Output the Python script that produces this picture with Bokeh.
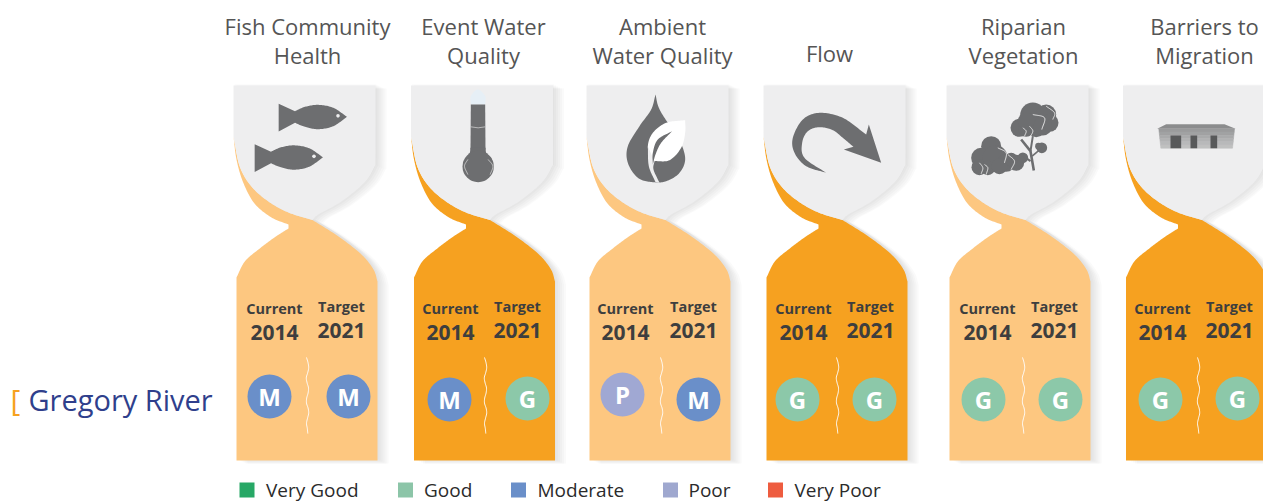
import numpy as np
from bokeh.plotting import figure
from bokeh.models import Range1d
from bokeh.core.properties import value
from bokeh.embed import file_html
from bokeh.resources import INLINE

# ---- data ----
river = "Gregory River"
categories = [["Fish Community", "Health"], ["Event Water", "Quality"], ["Ambient", "Water Quality"],
              ["Flow"], ["Riparian", "Vegetation"], ["Barriers to", "Migration"]]
current_rating = ["M", "M", "P", "G", "G", "G"]
target_rating = ["M", "G", "M", "G", "G", "G"]
current_year = "2014"
target_year = "2021"
legend_labels = ["Very Good", "Good", "Moderate", "Poor", "Very Poor"]
legend_colors = ["#27a866", "#8cc5a8", "#6a8fc9", "#9fa8cf", "#ee5c3f"]
rating_colors = {"G": "#8cc8a9", "M": "#6a8fc9", "P": "#a0a8d3"}
light_orange, deep_orange = "#fdc780", "#f6a120"
body_colors = [light_orange, deep_orange, light_orange, deep_orange, light_orange, deep_orange]

# ---- layout ----
col_left = [234, 411.5, 587, 764, 947, 1123.5]
title_x = [308, 484, 663, 830, 1024, 1205]
cur_txt = [275, 451, 626, 804, 988, 1163]
tar_txt = [342, 518, 694, 871, 1055, 1230]
cur_x = [270, 450, 623, 798, 984, 1161]
tar_x = [349, 528, 699, 875, 1061, 1238]
cur_y = [397, 400, 395, 400, 400, 400]
tar_y = [397, 399, 400, 400, 400, 399]
wave_x = [308, 486, 662, 838, 1024, 1199]
leg_sq = [240, 398.5, 511.5, 663.5, 768.5]
leg_tx = [266.5, 424.5, 538, 689, 795]
ICON = "#6d6e70"
FONT = value("Open Sans")


def smooth(pts, n=14):
    """Catmull-Rom outline through the given anchor points."""
    P = np.array(pts, float)
    P = np.vstack([2 * P[0] - P[1], P, 2 * P[-1] - P[-2]])
    out = []
    for i in range(1, len(P) - 2):
        for t in np.linspace(0, 1, n, endpoint=False):
            a, b, c, d = P[i - 1], P[i], P[i + 1], P[i + 2]
            out.append(0.5 * (2 * b + (c - a) * t + (2 * a - 5 * b + 4 * c - d) * t * t + (3 * b - a - 3 * c + d) * t ** 3))
    out.append(P[-2])
    return np.array(out)


def z1(pts, ox, oy):  # points measured on a 3x crop
    return [(ox + a / 3, oy + b / 3) for a, b in pts]


p = figure(width=1263, height=502, x_range=Range1d(1, 1264), y_range=Range1d(503, 1),
           x_axis_location=None, y_axis_location=None, toolbar_location=None,
           output_backend="svg", min_border=0, outline_line_color=None,
           background_fill_color="white", border_fill_color="white")
p.grid.visible = False

left_outer = smooth([(0, 137), (3, 160), (9.7, 183), (21, 204), (38, 218), (55, 225)])
left_lower = smooth([(55, 229), (41, 238), (25, 250), (11.3, 262), (3, 278)])
right_lower = smooth([(144, 282), (140, 270), (128, 255), (105, 237), (79, 220.5)])
grey_inner = smooth([(79, 220.5), (55, 213), (35, 202), (18, 187), (6.3, 167), (0, 137)])
grey_right = smooth([(142, 86), (142, 160), (141, 167), (131, 183), (108, 202), (85, 215), (79, 220.5)])
body = np.vstack([left_outer, left_lower, [(3, 461), (144, 461)], right_lower, grey_inner])
grey = np.vstack([[(0, 86)], grey_right, grey_inner])


def poly(pts, color, alpha=1.0, line=False):
    pts = np.asarray(pts)
    p.patch(pts[:, 0], pts[:, 1], fill_color=color, fill_alpha=alpha,
            line_color=color if line else None, line_alpha=alpha, line_width=0.6)


def disc(x, y, r, color):
    p.circle(x=[x], y=[y], radius=r, fill_color=color, line_color=None)


def stroke(pts, color, w):
    pts = np.asarray(pts)
    p.line(pts[:, 0], pts[:, 1], line_color=color, line_width=w)


# shadows
for x0 in col_left:
    for k, (sx, sy) in enumerate([(1, -1), (3, 0), (5, 1), (7, 2), (9, 3), (11, 3)]):
        for shape in (grey, body):
            poly(shape + [x0 + sx, sy], "#777777", 0.04)

# bodies
for x0, c in zip(col_left, body_colors):
    poly(body + [x0, 0], c)
    poly(grey + [x0, 0], "#eeeeef")


def fish(dx, dy):
    top = [(176, 103), (225, 125), (255, 112), (295, 106), (340, 115), (381, 142)]
    bot = [(381, 142), (340, 170), (295, 179), (255, 172), (225, 160), (176, 186)]
    a = z1([(176, 103)], 220, 70) + [tuple(q) for q in smooth(z1(top[1:], 220, 70))]
    b = [tuple(q) for q in smooth(z1(bot[:-1], 220, 70))] + z1([(176, 186)], 220, 70)
    poly(np.array(a + b) + [dx, dy], ICON)
    disc(220 + 354 / 3 + dx, 70 + 139 / 3 + dy, 1.8, "#eeeeef")


fish(0.5, 0)
fish(-23.5, 40.5)

# thermometer
poly(smooth(z1([(754, 105), (754, 80), (775, 60), (797, 80), (797, 105)], 220, 70)), "#e6eff6")
poly(z1([(754, 105), (797, 105), (798, 240), (753, 240)], 220, 70), ICON)
poly(smooth(z1([(753, 235), (750, 252), (738, 268), (735, 290), (800, 290), (816, 268), (801, 252), (798, 235)], 220, 70)), ICON)
disc(220 + 776 / 3, 70 + 291 / 3, 47 / 3, ICON)
stroke(z1([(754, 172), (776, 175), (797, 172)], 220, 70), "#d9d9d9", 0.7)
stroke(smooth(z1([(745, 270), (735, 290), (745, 315)], 220, 70)), "#dddddd", 0.8)
stroke(smooth(z1([(806, 270), (820, 290), (812, 315)], 220, 70)), "#dddddd", 0.8)

# drop and leaf
poly(smooth(z1([(108, 15), (118, 55), (145, 100), (175, 140), (197, 205), (180, 250), (140, 275), (100, 278),
                (55, 265), (25, 220), (25, 170), (60, 110), (95, 60), (108, 15)], 620, 90)), ICON)
poly(np.vstack([smooth(z1([(197, 92), (140, 100), (100, 130), (85, 170), (95, 210)], 620, 90)),
                smooth(z1([(105, 215), (150, 212), (185, 175), (197, 130), (197, 92)], 620, 90))]), "#ffffff")
poly(np.vstack([smooth(z1([(85, 170), (88, 230), (108, 278)], 620, 90)),
                smooth(z1([(120, 280), (102, 240), (105, 215)], 620, 90))]), "#eeeeef")
poly(np.vstack([smooth(z1([(158, 125), (115, 150), (100, 190), (100, 225)], 620, 90)),
                smooth(z1([(100, 225), (108, 195), (125, 160), (158, 125)], 620, 90))]), ICON)

# arrow
outer = smooth(z1([(740, 310), (680, 290), (645, 250), (640, 205), (670, 150), (720, 130), (790, 145), (860, 195)], 580, 70))
inner = smooth(z1([(822, 232), (790, 205), (760, 182), (720, 173), (685, 185), (668, 220), (675, 265), (740, 310)], 580, 70))
head = z1([(868, 165), (905, 280), (793, 240)], 580, 70)
poly(np.vstack([outer, head, inner]), ICON)

# riparian trees
tree_c = [(205, 62, 38), (245, 60, 30), (255, 85, 27), (165, 100, 27), (215, 98, 30), (185, 103, 24), (235, 95, 28),
          (185, 80, 25),
          (80, 155, 30), (50, 190, 30), (45, 218, 24), (92, 190, 38), (125, 205, 27), (155, 205, 24), (175, 190, 16),
          (70, 220, 22), (105, 215, 24), (140, 195, 20), (232, 160, 16), (222, 155, 10)]
for a, b, r in tree_c:
    disc(965 + a / 3, 95 + b / 3, r / 3, ICON)
stroke(z1([(208, 228), (198, 170), (170, 135)], 965, 95), ICON, 2.6)
stroke(z1([(198, 170), (205, 125)], 965, 95), ICON, 2)
stroke(z1([(203, 185), (232, 160)], 965, 95), ICON, 1.6)
stroke(z1([(198, 200), (170, 180)], 965, 95), ICON, 2)
for arc in ([(245, 35), (270, 55), (265, 75)], [(205, 60), (240, 70), (232, 105)], [(175, 100), (185, 110), (180, 125)],
            [(195, 95), (205, 110), (195, 130)], [(100, 160), (125, 175), (120, 205)], [(130, 180), (150, 200), (140, 225)],
            [(60, 210), (70, 220), (65, 240)], [(45, 205), (55, 220), (50, 238)]):
    stroke(smooth(z1(arc, 965, 95)), "#f4f4f4", 0.9)

# weir
poly(z1([(683, 178), (710, 164), (885, 164), (918, 178)], 930, 70), "#8b8c8d")
bands = ["#9a9b9c", "#a1a2a3", "#a9aaab", "#b1b2b3", "#b8b9ba", "#bfc0c0"]
for i, c in enumerate(bands):
    y0, y1 = 178 + i * 58 / 6, 178 + (i + 1) * 58 / 6
    poly(z1([(688 + i, y0), (915 - i, y0), (914 - i, y1), (689 + i, y1)], 930, 70), c, line=True)
for a, b in [(723, 755), (783, 803), (843, 863)]:
    poly(z1([(a, 198), (b, 198), (b, 236), (a, 236)], 930, 70), "#58595a")

# wavy dividers
wig = [-1, 0.5, 1.2, 0.2, -1.2, -0.4, 1, 0.6, -0.8, -1, 0.6, 1.2, 0, -1, -0.2, 0.3]
for x in wave_x:
    ys = np.linspace(358, 434, len(wig))
    stroke(smooth([(x + w, y) for w, y in zip(wig, ys)], 6), "#ffffff", 1)

# labels
DARK = "#3e3e3e"
def label(x, y, s, size, color=DARK, style="normal", align="center", font=FONT):
    p.text(x=[x], y=[y], text=[s], text_font=font, text_font_size=size, text_color=color,
           text_font_style=style, text_align=align, text_baseline="middle")

for i, lines in enumerate(categories):
    if len(lines) == 1:
        label(title_x[i], 53, lines[0], "22px", "#555555")
    else:
        label(title_x[i], 26, lines[0], "22px", "#555555")
        label(title_x[i], 55, lines[1], "22px", "#555555")
    label(cur_txt[i], 309, "Current", "14.5px", style="bold")
    label(tar_txt[i], 307, "Target", "14.5px", style="bold")
    label(cur_txt[i], 333, current_year, "21px", style="bold")
    label(tar_txt[i], 331, target_year, "21px", style="bold")
    p.circle(x=[cur_x[i]], y=[cur_y[i]], radius=22, fill_color=rating_colors[current_rating[i]], line_color=None)
    p.circle(x=[tar_x[i]], y=[tar_y[i]], radius=22, fill_color=rating_colors[target_rating[i]], line_color=None)
    label(cur_x[i], cur_y[i], current_rating[i], "24px", "#ffffff", "bold")
    label(tar_x[i], tar_y[i], target_rating[i], "24px", "#ffffff", "bold")

label(11, 400, "[", "30px", "#f6a120", align="left")
label(29, 400, river, "29px", "#2f3f8c", align="left")

for sx, tx, s, c in zip(leg_sq, leg_tx, legend_labels, legend_colors):
    p.quad(left=[sx], right=[sx + 15], top=[483], bottom=[498], fill_color=c, line_color=None)
    label(tx, 490, s, "19px", "#2b2b2b", align="left")

open("out.html", "w").write(file_html(p, INLINE))
